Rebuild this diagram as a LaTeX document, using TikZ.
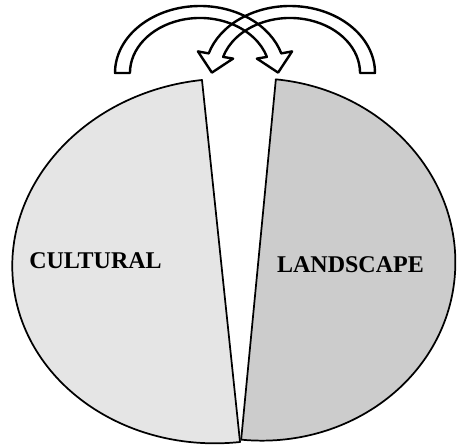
\documentclass[tikz,border=0pt]{standalone}
\usepackage{fontspec}
\setmainfont{Liberation Serif}
\usepackage{tikz}
\usepackage{color}

\definecolor{leftgray}{RGB}{229,229,229}
\definecolor{rightgray}{RGB}{204,204,204}

\begin{document}
\begin{tikzpicture}[x=0.75pt,y=0.75pt,yscale=-1,xscale=1,
  piece/.style={draw=black, line width=1.3pt, line join=round},
  swoop/.style={draw=black, line width=1.8pt, line join=round},
  pietext/.style={inner sep=0.75pt, font=\fontsize{18}{20}\selectfont\bfseries}]
%set diagram left start at 0, and has height of 445
\useasboundingbox (0,0) rectangle (457,445);

%Shape: Half Ellipse [id:cultural piece]
\begin{scope}[shift={(221,261)},rotate=-6]
\draw [piece, fill=leftgray] (0,-182) arc [start angle=-90, end angle=-270, x radius=209, y radius=182] -- cycle ;
\end{scope}
%Shape: Half Ellipse [id:landscape piece]
\begin{scope}[shift={(258.5,259.5)},rotate=5.5]
\draw [piece, fill=rightgray] (0,-181) arc [start angle=-90, end angle=90, x radius=197, y radius=181] -- cycle ;
\end{scope}

%Curve Arrow [id:left to right]
\draw [swoop] (115,73) arc [start angle=180, end angle=343, x radius=85, y radius=67] -- (292.1,51.4) -- (278.1,72.6) -- (256.9,58.6) -- (266.9,56.9) arc [start angle=343, end angle=180, x radius=70, y radius=55] -- cycle ;
%Curve Arrow [id:right to left]
\draw [swoop] (375,73) arc [start angle=0, end angle=-163, x radius=85, y radius=67] -- (197.9,51.4) -- (211.9,72.6) -- (233.1,58.6) -- (223.1,56.9) arc [start angle=-163, end angle=0, x radius=70, y radius=55] -- cycle ;

% Text Node
\node [pietext] (cultural) at (95.5,260.5) {CULTURAL};
% Text Node
\node [pietext] (landscape) at (350.5,265) {LANDSCAPE};

\end{tikzpicture}
\end{document}
